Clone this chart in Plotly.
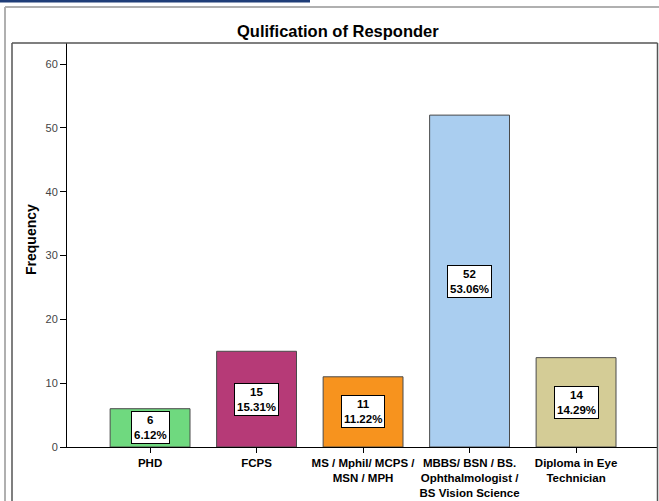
import plotly.graph_objects as go

# Qualification categories and response counts
categories = [
    "PHD",
    "FCPS",
    "MS / Mphil/ MCPS /<br>MSN / MPH",
    "MBBS/ BSN / BS.<br>Ophthalmologist /<br>BS Vision Science",
    "Diploma in Eye<br>Technician",
]
counts = [6, 15, 11, 52, 14]
bar_colors = ["#6fd97f", "#b63a77", "#f7931e", "#aacef0", "#d4cc96"]
y_ticks = [0, 10, 20, 30, 40, 50, 60]

total = sum(counts)
percents = [c / total * 100 for c in counts]
positions = list(range(len(categories)))

FONT = "Arial, 'Liberation Sans', sans-serif"
W, H = 659, 501
L, R, T, B = 67, 2, 43, 54
pw, ph = W - L - R, H - T - B


def px(x):
    return (x - L) / pw


def py(y):
    return 1 - (y - T) / ph


fig = go.Figure()
fig.add_trace(go.Bar(
    x=positions,
    y=counts,
    width=0.75,
    marker=dict(color=bar_colors, line=dict(color="#4a4a4a", width=1)),
    hoverinfo="skip",
))

# value / percentage labels in the middle of each bar
for xpos, c, p in zip(positions, counts, percents):
    fig.add_annotation(
        x=xpos, y=c / 2, xref="x", yref="y",
        xanchor="center", yanchor="middle",
        text=f"<b>{c}<br>{p:.2f}%</b>",
        showarrow=False,
        font=dict(family=FONT, size=11.5, color="black"),
        bgcolor="white", bordercolor="black", borderwidth=1, borderpad=2,
        align="center",
    )

# chart title
fig.add_annotation(
    x=px(338), y=py(31), xref="paper", yref="paper",
    xanchor="center", yanchor="middle",
    text="<b>Qulification of Responder</b>", showarrow=False,
    font=dict(family=FONT, size=16.5, color="black"),
)

# y-axis title
fig.add_annotation(
    x=px(31), y=py(240), xref="paper", yref="paper",
    xanchor="center", yanchor="middle",
    text="<b>Frequency</b>", showarrow=False, textangle=-90,
    font=dict(family=FONT, size=14, color="black"),
)

shapes = [
    # header rule
    dict(type="line", xref="paper", yref="paper", x0=px(0), x1=px(310),
         y0=py(1), y1=py(1), line=dict(color="#1f3d78", width=3)),
    # outer border
    dict(type="line", xref="paper", yref="paper", x0=px(5), x1=px(5),
         y0=py(7), y1=py(510), line=dict(color="#b0b0b0", width=2)),
    dict(type="line", xref="paper", yref="paper", x0=px(5), x1=px(670),
         y0=py(7), y1=py(7), line=dict(color="#b0b0b0", width=2)),
    # inner chart frame
    dict(type="line", xref="paper", yref="paper", x0=px(12), x1=px(12),
         y0=py(43), y1=py(510), line=dict(color="#555555", width=1.5)),
    dict(type="line", xref="paper", yref="paper", x0=px(12), x1=px(657.5),
         y0=py(43), y1=py(43), line=dict(color="#555555", width=1.5)),
    dict(type="line", xref="paper", yref="paper", x0=px(657.5), x1=px(657.5),
         y0=py(43), y1=py(510), line=dict(color="#555555", width=1.5)),
]
fig.update_layout(shapes=shapes)

fig.update_layout(
    width=W, height=H,
    margin=dict(l=L, r=R, t=T, b=B),
    paper_bgcolor="white", plot_bgcolor="white",
    showlegend=False,
    font=dict(family=FONT),
    xaxis=dict(
        range=[-0.78, 4.76],
        tickmode="array", tickvals=positions, ticktext=[f"<b>{c}</b>" for c in categories],
        ticks="outside", ticklen=5, tickcolor="black", tickwidth=1,
        tickfont=dict(family=FONT, size=11.5, color="black"),
        showline=True, linecolor="black", linewidth=1,
        showgrid=False, zeroline=False, fixedrange=True,
    ),
    yaxis=dict(
        range=[0, 63.3],
        tickmode="array", tickvals=y_ticks,
        ticks="outside", ticklen=6, tickcolor="black", tickwidth=1,
        tickfont=dict(family=FONT, size=11, color="#444444"),
        showline=True, linecolor="black", linewidth=1,
        showgrid=False, zeroline=False, fixedrange=True,
    ),
)

fig.write_html("out.html")
